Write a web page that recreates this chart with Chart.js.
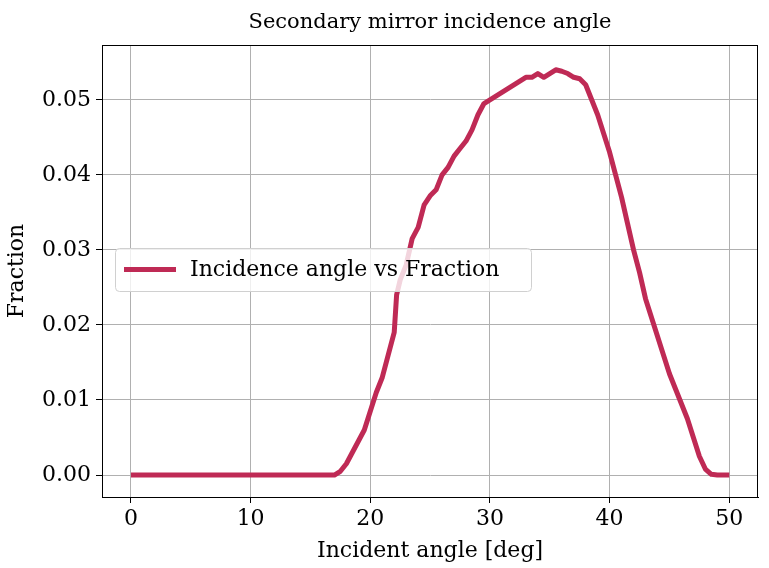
<!DOCTYPE html>
<html><head><meta charset="utf-8">
<script src="https://cdn.jsdelivr.net/npm/chart.js@4"></script>
<style>html,body{margin:0;padding:0;background:#fff}#c{display:block}</style>
</head><body>
<canvas id="c" width="769" height="568"></canvas>
<script>
const angles = [0,2,4,6,8,10,12,14,16,17,17.5,18,18.5,19,19.5,20,20.5,21,21.5,22,22.2,22.5,23,23.5,24,24.5,25,25.5,26,26.5,27,27.5,28,28.5,29,29.5,30,30.5,31,31.5,32,32.5,33,33.5,34,34.5,35,35.5,36,36.5,37,37.5,38,38.5,39,39.5,40,40.5,41,41.5,42,42.5,43,43.5,44,44.5,45,45.5,46,46.5,47,47.5,48,48.5,49,50];
const fractions = [0,0,0,0,0,0,0,0,0,0,0.0005,0.0015,0.003,0.0045,0.006,0.0085,0.011,0.013,0.016,0.019,0.024,0.026,0.028,0.0315,0.033,0.036,0.0372,0.038,0.040,0.041,0.0425,0.0435,0.0445,0.046,0.048,0.0495,0.050,0.0505,0.051,0.0515,0.052,0.0525,0.053,0.053,0.0535,0.053,0.0535,0.054,0.0538,0.0535,0.053,0.0528,0.052,0.050,0.048,0.0455,0.043,0.040,0.037,0.0335,0.030,0.027,0.0235,0.021,0.0185,0.016,0.0135,0.0115,0.0095,0.0075,0.005,0.0025,0.0008,0.0001,0,0];
const xTicks = [0,10,20,30,40,50];
const yTicks = [0,0.01,0.02,0.03,0.04,0.05];
const seriesLabel = 'Incidence angle vs Fraction';
const titleText = 'Secondary mirror incidence angle';
const color = '#bf2a55';
const F = 'DejaVu Serif';

const extras = {
  id:'extras',
  afterDraw(ch){
    const c=ch.ctx, a=ch.chartArea;
    c.save();
    c.strokeStyle='#000'; c.lineWidth=1;
    c.strokeRect(Math.round(a.left)+0.5,Math.round(a.top)+0.5,Math.round(a.right-a.left)-1,Math.round(a.bottom-a.top));
    c.fillStyle='#000'; c.font='21px "'+F+'"'; c.textAlign='center'; c.textBaseline='alphabetic';
    c.fillText(titleText,(a.left+a.right)/2,28);
    const x=115,y=248,w=416,h=43;
    c.fillStyle='rgba(255,255,255,0.8)'; c.strokeStyle='#d0d0d0'; c.lineWidth=1;
    c.beginPath(); c.roundRect(x+0.5,y+0.5,w,h,4); c.fill(); c.stroke();
    c.strokeStyle=color; c.lineWidth=5; c.beginPath(); c.moveTo(124,y+h/2); c.lineTo(176,y+h/2); c.stroke();
    c.fillStyle='#000'; c.textAlign='left'; c.textBaseline='middle'; c.font='22px "'+F+'"';
    c.fillText(seriesLabel,190,y+h/2+1);
    c.restore();
  }
};

new Chart(document.getElementById('c'),{
  type:'line',
  data:{datasets:[{label:seriesLabel,data:angles.map((x,i)=>({x,y:fractions[i]})),borderColor:color,borderWidth:5,pointRadius:0,tension:0,borderJoinStyle:'round'}]},
  options:{
    responsive:false,animation:false,
    layout:{padding:{top:45,right:11,left:0,bottom:0}},
    plugins:{legend:{display:false},title:{display:false},tooltip:{enabled:false}},
    scales:{
      x:{type:'linear',min:-2.42,max:52.4,
        afterBuildTicks:s=>{s.ticks=xTicks.map(v=>({value:v}));},
        afterFit:s=>{s.height=71;},
        ticks:{color:'#000',font:{family:F,size:22},padding:3,maxRotation:0,callback:v=>String(v)},
        grid:{color:'#b0b0b0',tickColor:'#000',tickLength:6,lineWidth:1},
        border:{color:'#000',width:1},
        title:{display:true,text:'Incident angle [deg]',color:'#000',font:{family:F,size:22},padding:{top:0}}},
      y:{min:-0.00293,max:0.0573,
        afterBuildTicks:s=>{s.ticks=yTicks.map(v=>({value:v}));},
        afterFit:s=>{s.width=102;},
        ticks:{color:'#000',font:{family:F,size:22},padding:5,callback:v=>Number(v).toFixed(2)},
        grid:{color:'#b0b0b0',tickColor:'#000',tickLength:6,lineWidth:1},
        border:{color:'#000',width:1},
        title:{display:true,text:'Fraction',color:'#000',font:{family:F,size:22},padding:{bottom:0}}}
    }
  },
  plugins:[extras]
});
</script>
</body></html>
